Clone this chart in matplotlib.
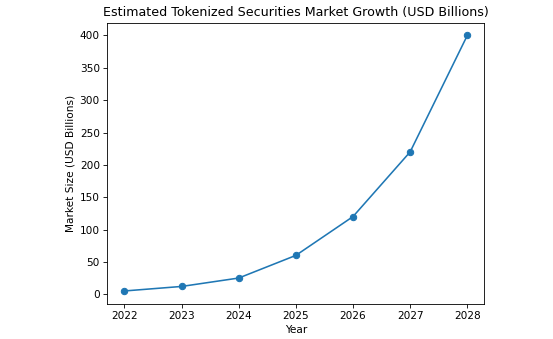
#!/usr/bin/env python3

import matplotlib
matplotlib.use("Agg")
import matplotlib.pyplot as plt

years = [2022, 2023, 2024, 2025, 2026, 2027, 2028]
market_size = [5, 12, 25, 60, 120, 220, 400]

DPI = 76
fig = plt.figure(figsize=(553 / DPI, 339 / DPI), dpi=DPI)
ax = fig.add_axes([0.194, 0.104, 0.682, 0.829])

ax.plot(years, market_size, marker='o')
ax.set_title("Estimated Tokenized Securities Market Growth (USD Billions)")
ax.set_xlabel("Year")
ax.set_ylabel("Market Size (USD Billions)")

fig.savefig("out.png", dpi=DPI)
